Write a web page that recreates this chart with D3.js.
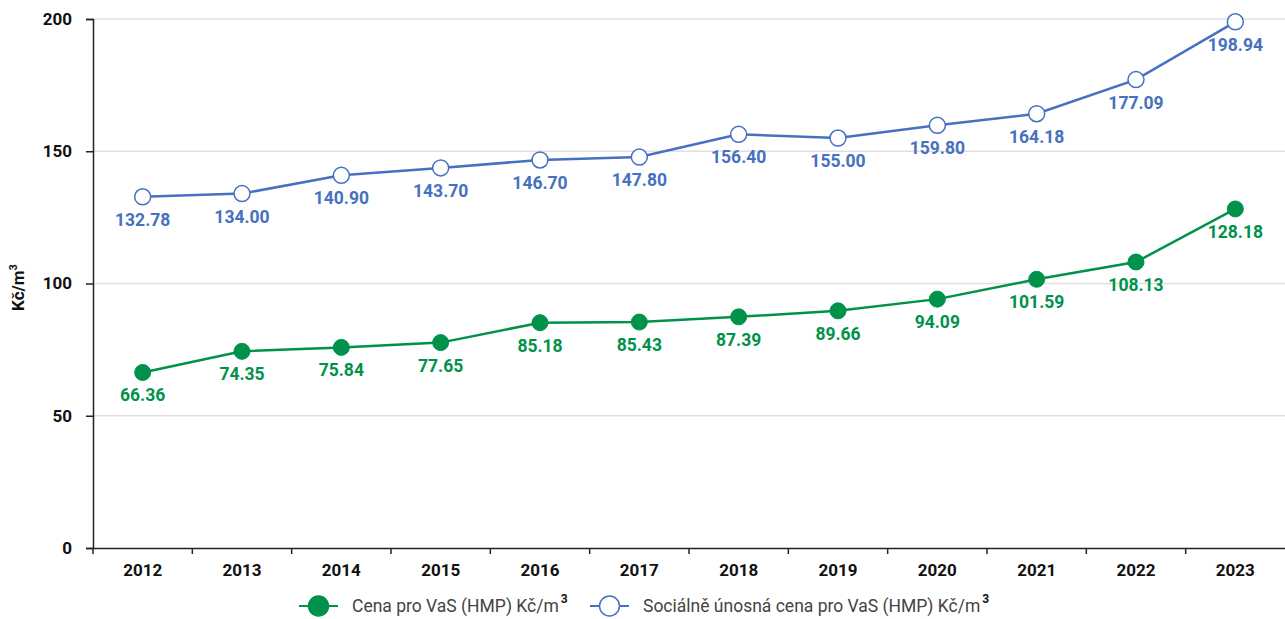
<!DOCTYPE html>
<html><head><meta charset="utf-8">
<script src="https://cdn.jsdelivr.net/npm/d3@7"></script>
<style>body{margin:0;background:#fff}svg{display:block;font-family:Roboto,"Noto Sans",sans-serif}</style>
</head><body><svg id="c" width="1285" height="619"></svg>
<script>
const years = ["2012","2013","2014","2015","2016","2017","2018","2019","2020","2021","2022","2023"];
const cena = [66.36,74.35,75.84,77.65,85.18,85.43,87.39,89.66,94.09,101.59,108.13,128.18];
const socialni = [132.78,134.00,140.90,143.70,146.70,147.80,156.40,155.00,159.80,164.18,177.09,198.94];
const yTicks = [0,50,100,150,200];
const seriesNames = ["Cena pro VaS (HMP) Kč/m", "Sociálně únosná cena pro VaS (HMP) Kč/m"];

const green = "#00924a", blue = "#4670c0";
const svg = d3.select("#c");
const L = 93, R = 1285, T = 19, B = 548;
const x = d3.scaleBand().domain(years).range([L, R]);
const y = d3.scaleLinear().domain([0,200]).range([B, T]);

// gridlines
svg.append("g").selectAll("line").data(yTicks.filter(d=>d>0)).join("line")
  .attr("x1", L).attr("x2", R).attr("y1", d=>y(d)).attr("y2", d=>y(d))
  .attr("stroke", "#e0e0e0").attr("stroke-width", 1.5);

// y axis
const ya = svg.append("g").attr("transform", `translate(${L},0)`)
  .call(d3.axisLeft(y).tickValues(yTicks).tickSize(7).tickPadding(14));
ya.select(".domain").attr("stroke", "#222").attr("stroke-width", 1.5);
ya.selectAll(".tick line").attr("stroke", "#222").attr("stroke-width", 1.5);
ya.selectAll("text").attr("font-size", 17).attr("font-weight", "bold").attr("fill", "#111").attr("font-family","Roboto");

// x axis
const xa = svg.append("g").attr("transform", `translate(0,${B})`)
  .call(d3.axisBottom(x).tickSize(0).tickPadding(16));
xa.select(".domain").attr("stroke", "#222").attr("stroke-width", 1.5);
xa.selectAll("text").attr("font-size", 17).attr("font-weight", "bold").attr("fill", "#111").attr("font-family","Roboto");
// boundary ticks
const bounds = years.map(d=>x(d));
svg.append("g").selectAll("line").data(bounds).join("line")
  .attr("x1", d=>d).attr("x2", d=>d).attr("y1", B).attr("y2", B+6)
  .attr("stroke", "#222").attr("stroke-width", 1.5);

// y title
svg.append("text").attr("transform", `translate(24,${(T+B)/2+4}) rotate(-90)`)
  .attr("text-anchor", "middle").attr("font-size", 17).attr("font-weight", "bold").attr("fill", "#111")
  .text("Kč/m").append("tspan").attr("dy", -7).attr("font-size", 11).text("3");

const cx = d => x(d) + x.bandwidth()/2;
function drawSeries(vals, color, filled) {
  const g = svg.append("g");
  g.append("path").datum(vals)
    .attr("d", d3.line().x((d,i)=>cx(years[i])).y(d=>y(d)))
    .attr("fill", "none").attr("stroke", color).attr("stroke-width", 2.5);
  g.selectAll("circle").data(vals).join("circle")
    .attr("cx", (d,i)=>cx(years[i])).attr("cy", d=>y(d)).attr("r", 8)
    .attr("fill", filled ? color : "#fff").attr("stroke", color).attr("stroke-width", filled?1:1.5);
  g.selectAll("text").data(vals).join("text")
    .attr("x", (d,i)=>cx(years[i])).attr("y", d=>y(d)+29)
    .attr("text-anchor", "middle").attr("font-size", 17.5).attr("font-weight", "bold").attr("fill", color)
    .text(d=>d.toFixed(2));
}
drawSeries(socialni, blue, false);
drawSeries(cena, green, true);

// legend
const ly = 606;
const leg = [{name: seriesNames[0], color: green, filled: true, x: 299},
             {name: seriesNames[1], color: blue, filled: false, x: 590}];
leg.forEach(l => {
  const g = svg.append("g");
  g.append("line").attr("x1", l.x).attr("x2", l.x+39).attr("y1", ly).attr("y2", ly)
    .attr("stroke", l.color).attr("stroke-width", 2);
  g.append("circle").attr("cx", l.x+19.5).attr("cy", ly).attr("r", 10)
    .attr("fill", l.filled ? l.color : "#fff").attr("stroke", l.color).attr("stroke-width", 1.5);
  const t = g.append("text").attr("x", l.x+53).attr("y", ly+6).attr("font-size", 17.5).attr("fill", "#444").text(l.name);
  t.append("tspan").attr("dy", -9).attr("dx", 2).attr("font-size", 12).attr("font-weight", "bold").attr("fill", "#111").text("3");
});
</script></body></html>
